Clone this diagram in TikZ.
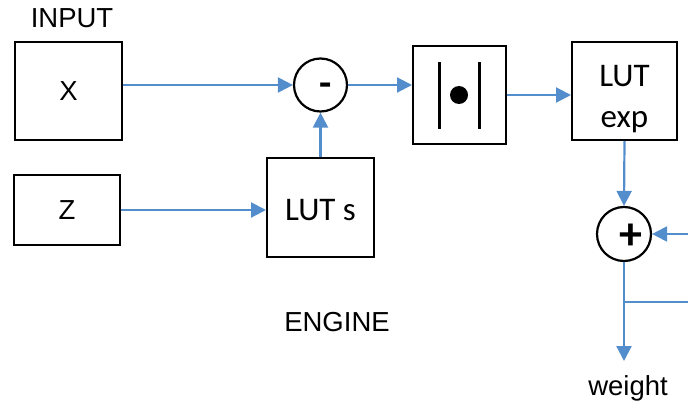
\documentclass[tikz,border=0pt]{standalone}
\usepackage{fontspec}
\setmainfont{Liberation Sans}
\newfontfamily\calib{Carlito}
\usetikzlibrary{arrows.meta,calc}
\definecolor{flow}{RGB}{84,141,204}
\begin{document}
\begin{tikzpicture}[x=1pt,y=-1pt,
  blk/.style={draw=black,line width=2pt,minimum width=#1,inner sep=0pt},
  circ/.style={draw=black,line width=2.2pt,circle,minimum size=#1,inner sep=0pt},
  conn/.style={draw=flow,line width=2.2pt,-{Triangle[length=15pt,width=15pt]}},
  plain/.style={draw=flow,line width=2.2pt},
  arialtxt/.style={font=\fontsize{27.5}{32}\selectfont,inner sep=0pt},
  calibtxt/.style={font=\calib\fontsize{33}{41}\selectfont,align=center,inner sep=0pt}]
\useasboundingbox (0,0) rectangle (688,409);
% boxes
\node[blk=107pt,minimum height=98pt,arialtxt] (x) at (68.5,91) {X};
\node[blk=106pt,minimum height=70pt,arialtxt] (z) at (67,210) {Z};
\node[blk=107pt,minimum height=99pt,calibtxt] (luts) at (320.5,207.5) {\raisebox{-3pt}[\height][\depth]{LUT s}};
\node[blk=93pt,minimum height=98pt] (abs) at (459.5,95) {};
\node[blk=105pt,minimum height=98pt,calibtxt] (lexp) at (624.5,91) {\raisebox{-8pt}[\height][\depth]{\begin{tabular}{@{}c@{}}LUT\\[0pt]exp\end{tabular}}};
\node[circ=53pt] (m) at (320.5,85) {};
\node[circ=54pt] (p) at (624,234) {};
% signs
\node[font=\calib\bfseries\fontsize{40}{40}\selectfont,inner sep=0pt,anchor=base] (msign) at (326,97) {-};
\node[font=\calib\bfseries\fontsize{46}{46}\selectfont,inner sep=0pt] (psign) at (630.7,237) {+};
% abs symbol
\draw[line width=3pt] (439,62) -- (439,129);
\draw[line width=3pt] (479,62) -- (479,129);
\fill (459,95) circle (9);
% labels
\node[arialtxt] (inp) at (72,18) {INPUT};
\node[arialtxt] (eng) at (337,322) {ENGINE};
\node[arialtxt] (wt) at (628,388) {weight};
% free ends
\coordinate (rin) at (688,234);
\coordinate (wout) at (624,361);
\coordinate (br) at (624,302);
\coordinate (bro) at (688,302);
% connectors
\draw[conn] (x.east |- m.west) -- (m.west);
\draw[conn] (m.east) -- (m.east -| abs.west);
\draw[conn] (abs.east) -- (abs.east -| lexp.west);
\draw[conn] (luts.north) -- (m.south);
\draw[conn] (z.east) -- (z.east -| luts.west);
\draw[conn] (lexp.south) -- (p.north);
\draw[conn] (rin) -- (p.east);
\draw[conn] (p.south) -- (wout);
\draw[plain] (br) -- (bro);
\end{tikzpicture}
\end{document}
